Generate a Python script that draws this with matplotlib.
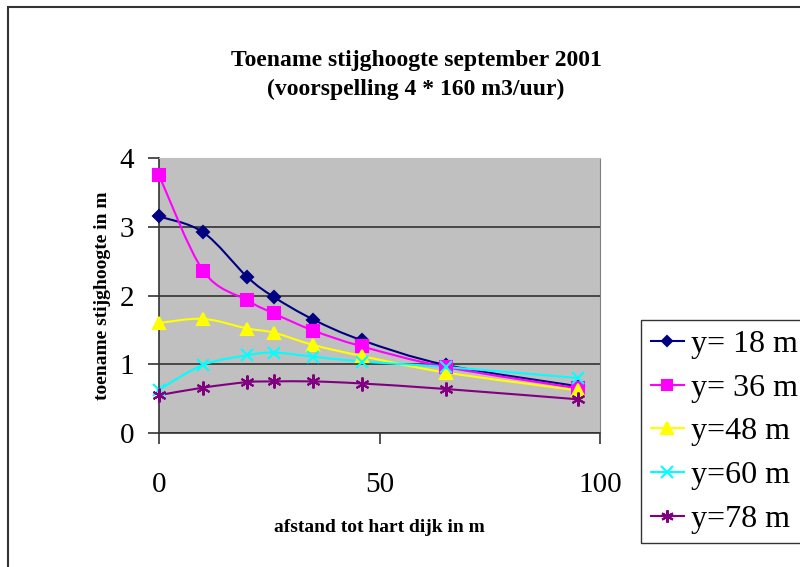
import matplotlib.pyplot as plt
import numpy as np
from matplotlib.path import Path
from matplotlib.patches import PathPatch, Rectangle
from matplotlib.lines import Line2D

plt.rcParams['font.family'] = ['Liberation Serif', 'DejaVu Serif']

# afstand tot hart dijk (m)
afstand = [0, 10, 20, 26, 35, 46, 65, 95]

y18 = [3.15, 2.92, 2.27, 1.98, 1.65, 1.35, 0.99, 0.68]
y36 = [3.75, 2.36, 1.93, 1.74, 1.49, 1.26, 0.96, 0.65]
y48 = [1.60, 1.66, 1.52, 1.46, 1.28, 1.12, 0.88, 0.62]
y60 = [0.63, 0.99, 1.13, 1.17, 1.11, 1.04, 0.96, 0.80]
y78 = [0.55, 0.66, 0.74, 0.75, 0.75, 0.72, 0.64, 0.49]

labels = ['y= 18 m', 'y= 36 m', 'y=48 m', 'y=60 m', 'y=78 m']
colors = ['#000080', '#FF00FF', '#FFFF00', '#00FFFF', '#800080']
markers = ['D', 's', '^', 'x', (6, 2, 0)]
msizes = [6, 8, 9, 9, 10]


def smooth_path(x, y):
    # Excel-style smoothed line: cubic bezier through the data points
    p = np.column_stack([x, y]).astype(float)
    n = len(p)
    verts = [p[0]]
    codes = [Path.MOVETO]
    for i in range(n - 1):
        p0 = p[i - 1] if i > 0 else p[i]
        p3 = p[i + 2] if i + 2 < n else p[i + 1]
        c1 = p[i] + (p[i + 1] - p0) / 6.0
        c2 = p[i + 1] - (p3 - p[i]) / 6.0
        verts += [c1, c2, p[i + 1]]
        codes += [Path.CURVE4] * 3
    return Path(verts, codes)


fig = plt.figure(figsize=(8, 5.67), dpi=100)
fig.patch.set_facecolor('white')

# outer chart border
fig.patches.append(Rectangle((7.5 / 800, -0.05), 1.2, (567 - 6.5) / 567 + 0.05,
                             transform=fig.transFigure, fill=False,
                             edgecolor='#333333', linewidth=1.5))

ax = fig.add_axes([159 / 800, 134 / 567, 441 / 800, 275 / 567])
ax.set_facecolor('#C0C0C0')

handles = []
for ys, lab, c, m, ms in zip([y18, y36, y48, y60, y78], labels, colors, markers, msizes):
    ax.add_patch(PathPatch(smooth_path(afstand, ys), fill=False, edgecolor=c,
                           linewidth=1.5, zorder=3))
    ax.plot(afstand, ys, linestyle='none', marker=m, color=c, markersize=ms,
            markeredgewidth=1.5, zorder=4, clip_on=False)
    handles.append(Line2D([], [], color=c, marker=m, markersize=ms - 1,
                          markeredgewidth=1.5, linewidth=1.5))

ax.set_xlim(0, 100)
ax.set_ylim(0, 4)
ax.set_xticks([0, 50, 100])
ax.set_yticks([0, 1, 2, 3, 4])
ax.grid(axis='y', color='#333333', linewidth=1.2)
ax.set_axisbelow(True)
ax.tick_params(labelsize=21, direction='out', length=8, width=1.2, color='#333333', pad=20)
ax.tick_params(axis='y', pad=10)
for s in ['left', 'bottom']:
    ax.spines[s].set_color('#333333')
    ax.spines[s].set_linewidth(1.2)
ax.spines['top'].set_color('#C0C0C0')
ax.spines['right'].set_color('#808080')

ax.set_xlabel('afstand tot hart dijk in m', fontsize=14, fontweight='bold', labelpad=15)
ax.set_ylabel('toename stijghoogte in m', fontsize=14, fontweight='bold', labelpad=6)

fig.text(0.52, 1 - 61 / 567, 'Toename stijghoogte september 2001', ha='center',
         va='center', fontsize=17, fontweight='bold')
fig.text(0.52, 1 - 89 / 567, '(voorspelling 4 * 160 m3/uur)', ha='center',
         va='center', fontsize=17, fontweight='bold')

leg = fig.legend(handles, labels, loc='upper left', bbox_to_anchor=(641 / 800, 1 - 320 / 567),
                 fontsize=23, frameon=True, fancybox=False, edgecolor='black',
                 handlelength=1.05, handletextpad=0.2, labelspacing=0.45,
                 borderpad=0.3, borderaxespad=0)
leg.get_frame().set_linewidth(1.0)

fig.savefig('out.png', dpi=100)
